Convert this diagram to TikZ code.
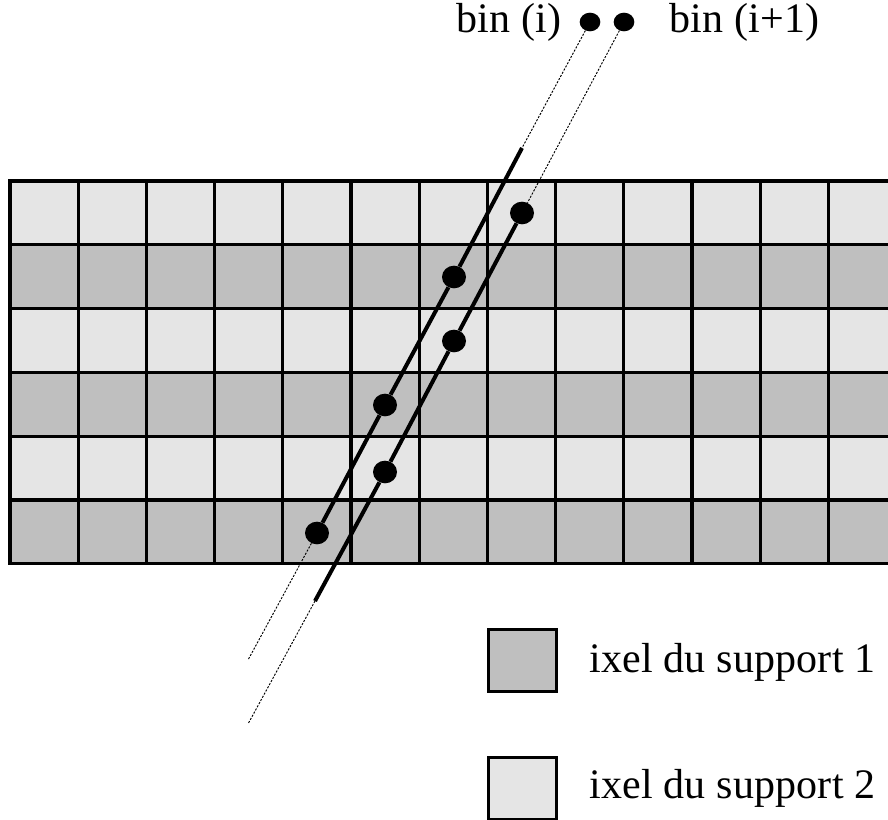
\documentclass[tikz,border=0pt]{standalone}
\usepackage{fontspec}
\setmainfont[LetterSpace=0.5]{Liberation Serif}
\usetikzlibrary{shapes.geometric}
\definecolor{supone}{gray}{0.75}
\definecolor{suptwo}{gray}{0.90}
\tikzset{
  gridline/.style={line width=2.5pt,black},
  dotbig/.style={ellipse,fill=black,inner sep=0pt,minimum width=18pt,minimum height=17pt},
  dotsmall/.style={ellipse,fill=black,inner sep=0pt,minimum width=15.5pt,minimum height=14pt},
  binline/.style={line width=3pt,black},
  guide/.style={line width=0.7pt,dash pattern=on 1.6pt off 1.1pt,black},
  label/.style={font=\fontsize{31.5pt}{32pt}\selectfont,anchor=base west,inner sep=0pt},
  legendbox/.style={draw=black,line width=2.5pt,inner sep=0pt,minimum width=51pt,minimum height=46.5pt,anchor=north west}
}
\begin{document}
\begin{tikzpicture}[x=0.75pt,y=-0.75pt]
\useasboundingbox (0,0) rectangle (888,820);
\begin{scope}
\clip (0,0) rectangle (888,820);
\foreach \r in {0,2,4} {
  \fill[suptwo] (10,181+63.8*\r) rectangle (888,181+63.8*\r+63.8);
  \fill[supone] (10,181+63.8*\r+63.8) rectangle (888,181+63.8*\r+127.6);
}
\foreach \c in {0,...,12} \draw[gridline] (10+68.2*\c,181) -- (10+68.2*\c,563.8);
\foreach \r in {0,...,6} \draw[gridline] (8.3,181+63.8*\r) -- (888,181+63.8*\r);
\end{scope}
% bin i
\node[dotsmall] (topa) at (590,22) {};
\node[dotbig] (a1) at (454,277) {};
\node[dotbig] (a2) at (385,405) {};
\node[dotbig] (a3) at (317,533) {};
\coordinate (astart) at (522,148);
\coordinate (aend) at (248,660);
\draw[guide] (topa) -- (astart);
\draw[binline] (astart) -- (a1) -- (a2) -- (a3);
\draw[guide] (a3) -- (aend);
% bin i+1
\node[dotsmall] (topb) at (624,22) {};
\node[dotbig] (b1) at (522,213) {};
\node[dotbig] (b2) at (454,341) {};
\node[dotbig] (b3) at (385,472) {};
\coordinate (bstop) at (315,601);
\coordinate (bend) at (248,724);
\draw[guide] (topb) -- (b1);
\draw[binline] (b1) -- (b2) -- (b3) -- (bstop);
\draw[guide] (bstop) -- (bend);
% labels
\node[label] (lbi) at (456,33) {bin (i)};
\node[label] (lbj) at (669,33) {bin (i+1)};
% legend
\node[legendbox,fill=supone] (k1) at (486.5,627.5) {};
\node[legendbox,fill=suptwo] (k2) at (486.5,755.5) {};
\node[label] (t1) at (589,672) {ixel du support 1};
\node[label] (t2) at (589,798) {ixel du support 2};
\end{tikzpicture}
\end{document}
